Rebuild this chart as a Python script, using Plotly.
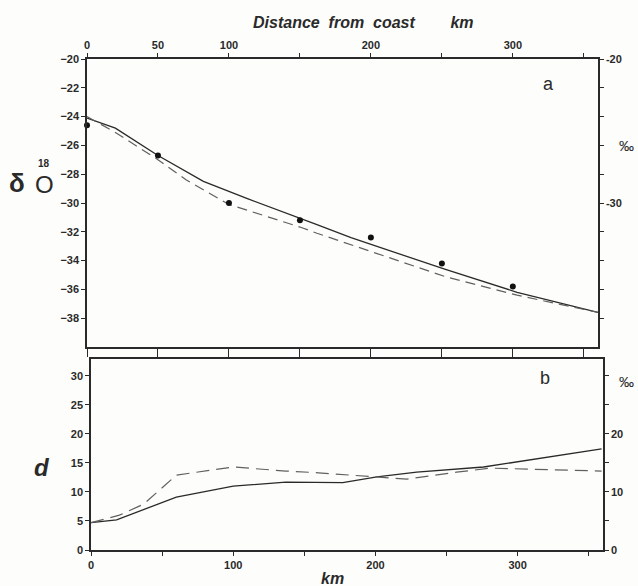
import plotly.graph_objects as go

# ---- data ----
# panel a : delta 18O (permil) vs distance from coast (km)
obs_x = [0, 50, 100, 150, 200, 250, 300]
obs_d18o = [-24.6, -26.7, -30.0, -31.2, -32.4, -34.2, -35.8]

solid_a_x = [0, 20, 50, 82, 113, 152, 162, 186, 201, 231, 252, 303, 360]
solid_a_y = [-24.1, -24.8, -26.7, -28.5, -29.7, -31.1, -31.5, -32.4, -32.9, -33.95, -34.6, -36.2, -37.6]

dash_a_x = [0, 20, 50, 70, 100, 151, 162, 201, 252, 303, 360]
dash_a_y = [-24.0, -25.1, -27.0, -28.4, -30.1, -31.7, -32.1, -33.4, -35.1, -36.4, -37.6]

# panel b : deuterium excess d (permil)
solid_b_x = [0, 18, 60, 100, 137, 177, 201, 229, 276, 359]
solid_b_y = [4.7, 5.2, 9.1, 11.0, 11.7, 11.6, 12.6, 13.4, 14.3, 17.4]

dash_b_x = [0, 20, 37, 48, 60, 100, 137, 160, 201, 222, 257, 281, 359]
dash_b_y = [4.7, 6.0, 7.9, 10.3, 12.9, 14.3, 13.6, 13.3, 12.6, 12.2, 13.4, 14.1, 13.6]

# ticks
x_ticks = [0, 50, 100, 150, 200, 250, 300, 350]
x_top_text = ["0", "50", "100", "", "200", "", "300", ""]
x_bot_text = ["0", "", "100", "", "200", "", "300", ""]
ya_ticks = [-20, -22, -24, -26, -28, -30, -32, -34, -36, -38]
ya_right_ticks = [-20, -22, -24, -26, -28, -30, -32, -34, -36, -38]
ya_right_text = ["-20", "", "", "", "", "-30", "", "", "", ""]
yb_ticks = [0, 5, 10, 15, 20, 25, 30]
yb_right_text = ["0", "", "10", "", "20", "", ""]

W, H = 638, 586
INK = "#2a2a2a"
tickfont = dict(family="Liberation Sans", size=11, color=INK, weight="bold")

fig = go.Figure()

fig.add_trace(go.Scatter(x=solid_a_x, y=solid_a_y, mode="lines",
                         line=dict(color=INK, width=1.3), xaxis="x", yaxis="y",
                         showlegend=False))
fig.add_trace(go.Scatter(x=dash_a_x, y=dash_a_y, mode="lines",
                         line=dict(color="#606060", width=1.2, dash="10px,6px"),
                         xaxis="x", yaxis="y", showlegend=False))
fig.add_trace(go.Scatter(x=obs_x, y=obs_d18o, mode="markers",
                         marker=dict(color="#111111", size=6), xaxis="x", yaxis="y",
                         showlegend=False, cliponaxis=False))

fig.add_trace(go.Scatter(x=solid_b_x, y=solid_b_y, mode="lines",
                         line=dict(color=INK, width=1.3), xaxis="x3", yaxis="y3",
                         showlegend=False))
fig.add_trace(go.Scatter(x=dash_b_x, y=dash_b_y, mode="lines",
                         line=dict(color="#606060", width=1.2, dash="13px,7px"),
                         xaxis="x3", yaxis="y3", showlegend=False))

axline = dict(showline=True, linecolor=INK, linewidth=1.5, showgrid=False,
              zeroline=False, ticks="outside", tickcolor=INK, tickwidth=1,
              automargin=False, tickfont=tickfont)

dom_a_x = [87 / W, 598 / W]
dom_b_x = [91 / W, 603 / W]
dom_a_y = [(H - 347) / H, (H - 59) / H]
dom_b_y = [(H - 550) / H, (H - 359) / H]

fig.update_layout(
    width=W, height=H,
    margin=dict(l=0, r=0, t=0, b=0),
    paper_bgcolor="#fdfdfb", plot_bgcolor="#fdfdfb",
    xaxis=dict(axline, domain=dom_a_x, range=[0, 360], anchor="y", side="bottom",
               tickvals=x_ticks, showticklabels=False, ticklen=8),
    xaxis2=dict(axline, domain=dom_a_x, range=[0, 360], anchor="y", side="top",
                overlaying="x", tickvals=x_ticks, ticktext=x_top_text, ticklen=4),
    yaxis=dict(axline, domain=dom_a_y, range=[-40, -20], anchor="x",
               tickvals=ya_ticks, ticklen=4),
    yaxis2=dict(axline, domain=dom_a_y, range=[-40, -20], anchor="x", side="right",
                overlaying="y", tickvals=ya_right_ticks, ticktext=ya_right_text,
                ticklen=4),
    xaxis3=dict(axline, domain=dom_b_x, range=[0, 360], anchor="y3",
                tickvals=x_ticks, ticktext=x_bot_text, ticklen=4, mirror=True),
    yaxis3=dict(axline, domain=dom_b_y, range=[0, 32.9], anchor="x3",
                tickvals=yb_ticks, ticklen=4),
    yaxis4=dict(axline, domain=dom_b_y, range=[0, 32.9], anchor="x3", side="right",
                overlaying="y3", tickvals=yb_ticks, ticktext=yb_right_text, ticklen=4),
)

# helper traces so the secondary axes are drawn
fig.add_trace(go.Scatter(x=[0], y=[-20], xaxis="x2", yaxis="y", mode="markers",
                         marker=dict(opacity=0), showlegend=False, hoverinfo="skip"))
fig.add_trace(go.Scatter(x=[0], y=[-20], xaxis="x", yaxis="y2", mode="markers",
                         marker=dict(opacity=0), showlegend=False, hoverinfo="skip"))
fig.add_trace(go.Scatter(x=[0], y=[0], xaxis="x3", yaxis="y4", mode="markers",
                         marker=dict(opacity=0), showlegend=False, hoverinfo="skip"))

def ann(text, x, y, size, xanchor="center", italic=False, bold=True, family="Liberation Sans"):
    fig.add_annotation(text=text, x=x / W, y=1 - y / H, xref="paper", yref="paper",
                       showarrow=False, xanchor=xanchor, yanchor="middle",
                       font=dict(family=family, size=size, color=INK,
                                 weight="bold" if bold else "normal",
                                 style="italic" if italic else "normal"))

ann("Distance  from  coast        km", 363, 22, 16, italic=True)
ann("km", 332, 578, 16, italic=True)
ann("a", 548, 84, 18, bold=False)
ann("b", 545, 378, 18, bold=False)
ann("d", 42, 467, 24, italic=True)
ann("δ", 17, 183, 26)
ann("18", 44, 163, 10)
ann("O", 44, 185, 24, bold=False)
ann("‰", 636, 146, 15, xanchor="right", bold=False)
ann("‰", 636, 381, 15, xanchor="right", bold=False)

fig.write_html("out.html")
